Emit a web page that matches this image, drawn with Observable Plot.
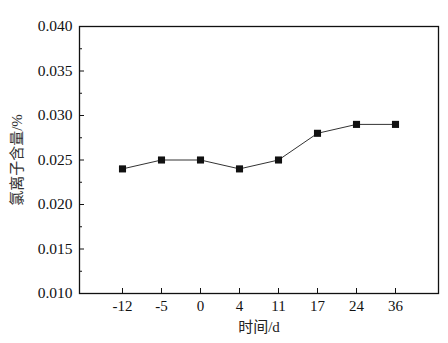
<!DOCTYPE html>
<html>
<head>
<meta charset="utf-8">
<script src="https://cdn.jsdelivr.net/npm/d3@7"></script>
<script src="https://cdn.jsdelivr.net/npm/@observablehq/plot@0.6"></script>
<style>
  html, body { margin: 0; padding: 0; background: #fff; }
  svg { display: block; }
  svg text, svg g { font-family: "Liberation Serif", "Noto Sans CJK SC", serif !important; font-variant: normal !important; }
</style>
</head>
<body>
<div id="chart"></div>
<script>
const times = ["-12", "-5", "0", "4", "11", "17", "24", "36"];
const chloride = [0.024, 0.025, 0.025, 0.024, 0.025, 0.028, 0.029, 0.029];
const yMajorTicks = [0.010, 0.015, 0.020, 0.025, 0.030, 0.035, 0.040];
const yMinorTicks = [0.0125, 0.0175, 0.0225, 0.0275, 0.0325, 0.0375];
const xLabel = "时间/d";
const yLabel = "氯离子含量/%";

const data = times.map((t, i) => ({t, v: chloride[i]}));
const serif = "Liberation Serif, Noto Sans CJK SC, serif";

const chart = Plot.plot({
  width: 448,
  height: 343,
  marginLeft: 79,
  marginRight: 10,
  marginTop: 26,
  marginBottom: 50,
  style: {fontFamily: serif, fontSize: "15px", color: "#111", background: "#fff"},
  x: {type: "point", domain: times, padding: 1, axis: null, label: null},
  y: {domain: [0.010, 0.040], axis: null, label: null},
  marks: [
    Plot.frame({stroke: "#111", strokeWidth: 1.3}),
    Plot.axisY(yMajorTicks, {anchor: "left", label: null, tickSize: 5, dx: 5, tickFormat: () => "", stroke: "#111"}),
    Plot.axisY(yMinorTicks, {anchor: "left", label: null, tickSize: 3, dx: 3, tickFormat: () => "", stroke: "#111"}),
    Plot.axisY(yMajorTicks, {anchor: "left", label: null, tickSize: 0, tickPadding: 7, tickFormat: d3.format(".3f"), fontSize: 15.5, fontVariant: "normal", fill: "#111"}),
    Plot.axisX(times, {anchor: "bottom", label: null, tickSize: 5, dy: -5, tickFormat: () => "", stroke: "#111"}),
    Plot.axisX(times, {anchor: "bottom", label: null, tickSize: 0, tickPadding: 7, fontSize: 15, fill: "#111"}),
    Plot.line(data, {x: "t", y: "v", stroke: "#333", strokeWidth: 1}),
    Plot.dot(data, {x: "t", y: "v", symbol: "square", r: 4, fill: "#111", stroke: "none"}),
    Plot.text([xLabel], {frameAnchor: "bottom", dy: 38, text: d => d, fontSize: 15, fill: "#222", fontFamily: serif}),
    Plot.text([yLabel], {frameAnchor: "left", dx: -62, rotate: -90, textAnchor: "middle", text: d => d, fontSize: 15, fill: "#333", fontFamily: serif})
  ]
});
document.getElementById("chart").appendChild(chart);
</script>
</body>
</html>
